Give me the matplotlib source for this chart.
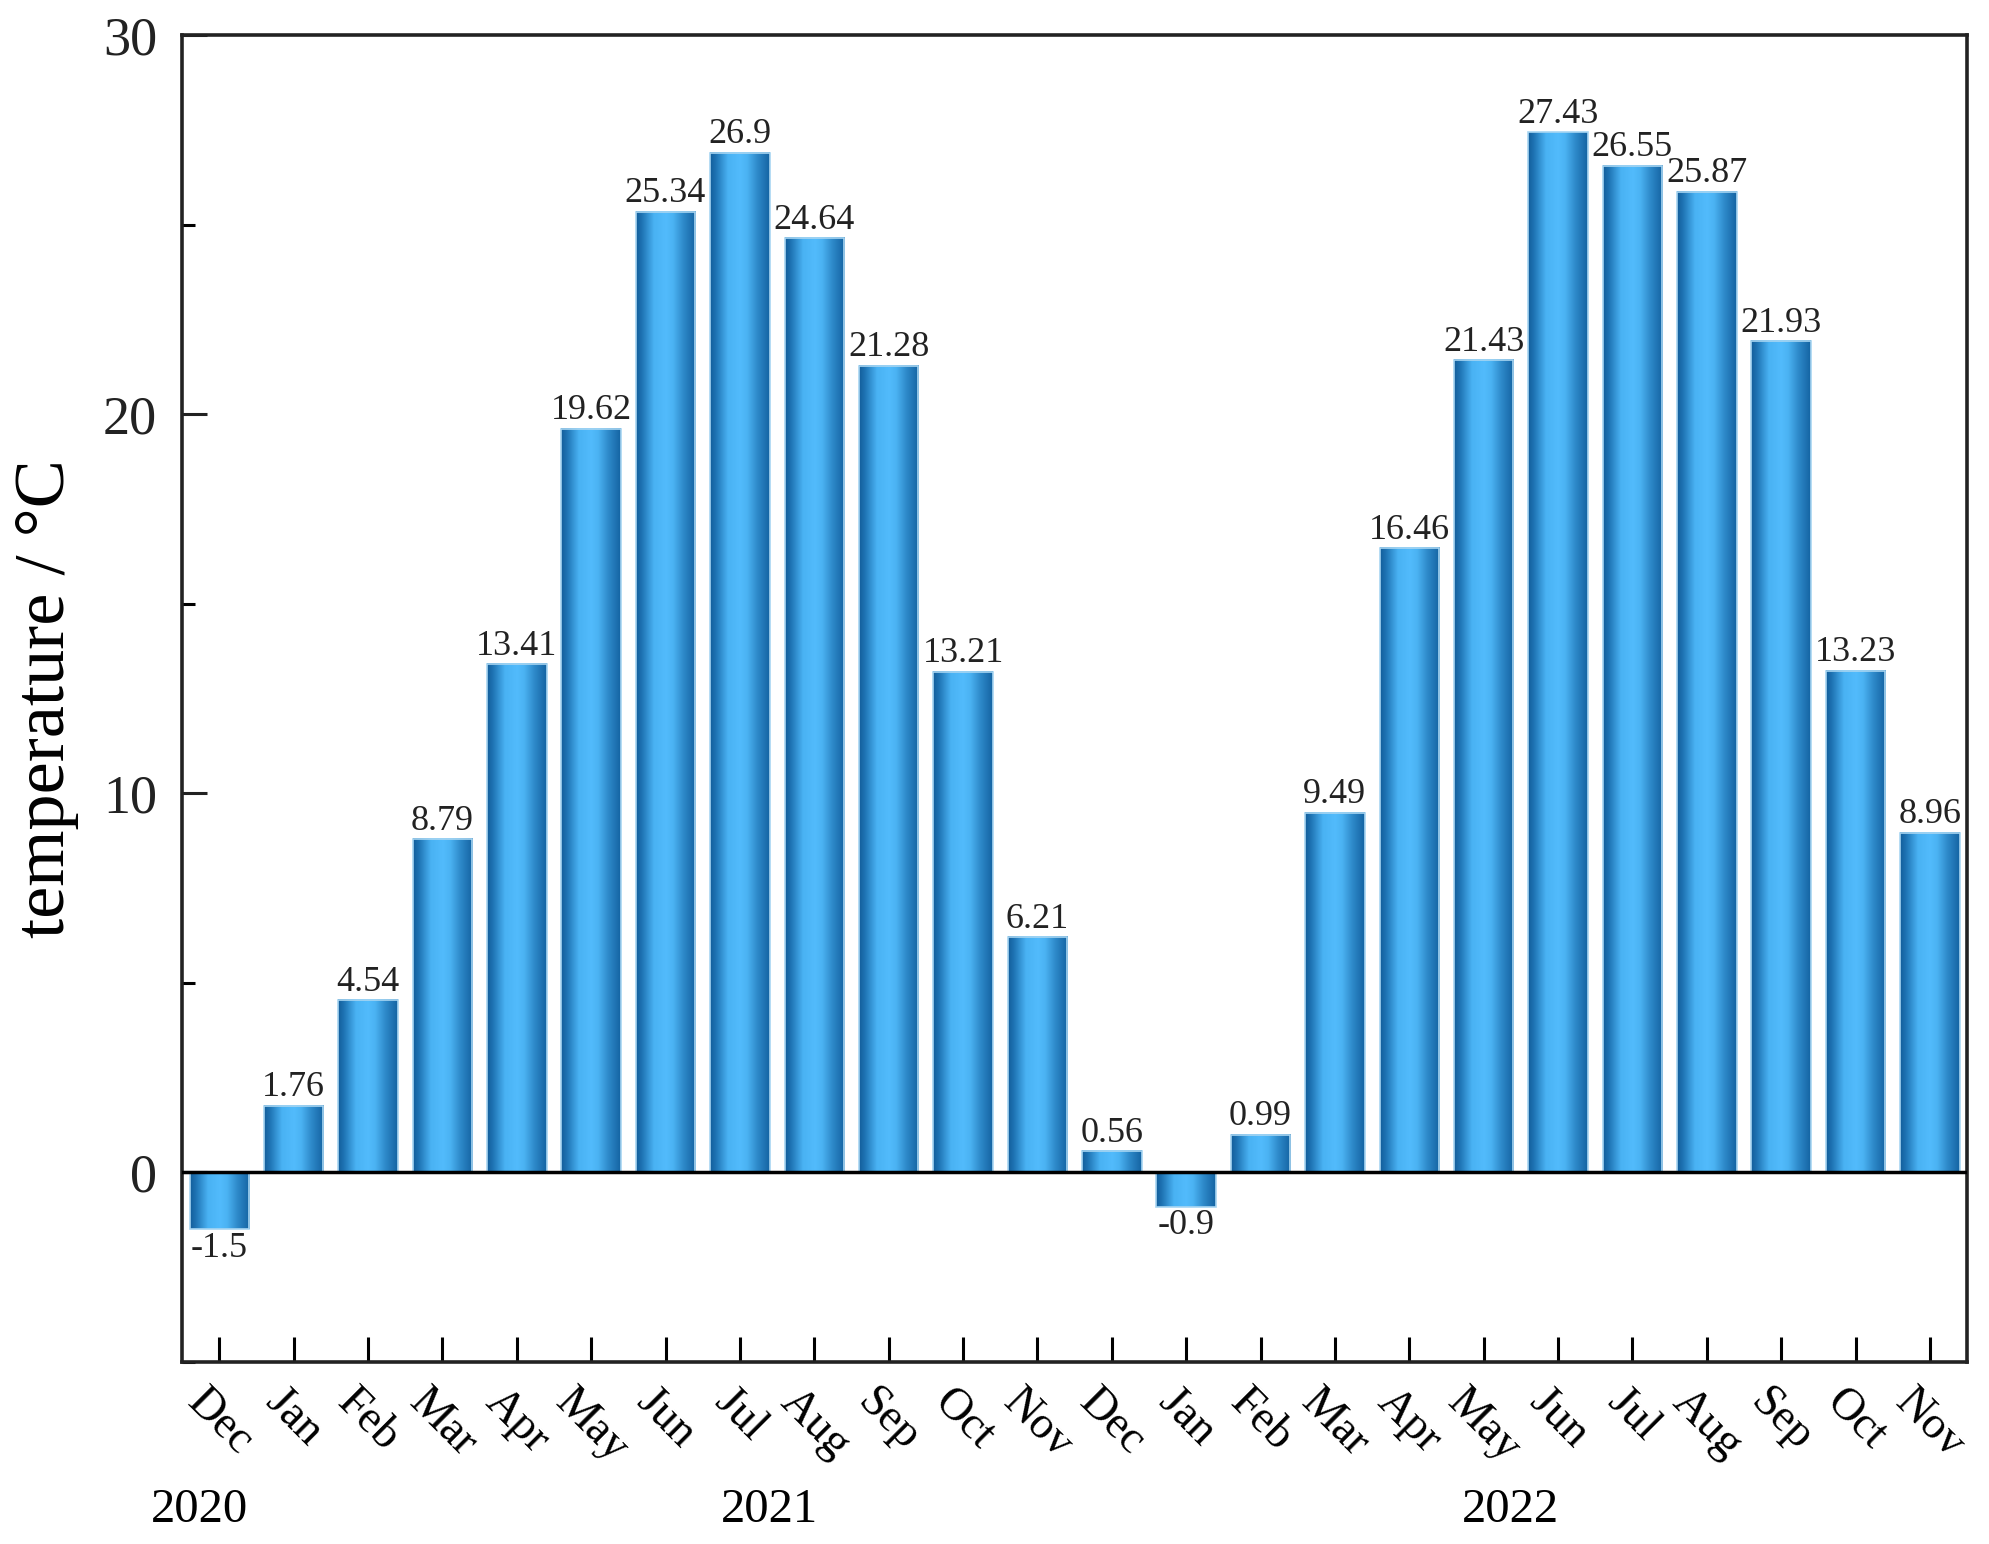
import numpy as np
from matplotlib import pyplot as plt
from matplotlib.colors import LinearSegmentedColormap
from matplotlib.patches import Rectangle
from matplotlib.ticker import MultipleLocator

plt.rcParams['font.family'] = ['Liberation Serif', 'DejaVu Serif']

# monthly mean temperature, Dec 2020 - Nov 2022
months = ['Dec', 'Jan', 'Feb', 'Mar', 'Apr', 'May', 'Jun', 'Jul', 'Aug', 'Sep', 'Oct', 'Nov',
          'Dec', 'Jan', 'Feb', 'Mar', 'Apr', 'May', 'Jun', 'Jul', 'Aug', 'Sep', 'Oct', 'Nov']
temps = [-1.5, 1.76, 4.54, 8.79, 13.41, 19.62, 25.34, 26.9, 24.64, 21.28, 13.21, 6.21,
         0.56, -0.9, 0.99, 9.49, 16.46, 21.43, 27.43, 26.55, 25.87, 21.93, 13.23, 8.96]
years = ['2020', '2021', '2022']
yearPos = [-0.26, 7.4, 17.36]

# horizontal shading across each bar (dark edges, light middle)
barCmap = LinearSegmentedColormap.from_list('bar', [
    (0.0, '#125d9a'), (0.1, '#1f74b4'), (0.3, '#49b2f3'), (0.5, '#52bbfc'),
    (0.62, '#4bb3f3'), (0.8, '#2d88c8'), (1.0, '#1463a2')])
grad = np.linspace(0, 1, 256).reshape(1, -1)

fig = plt.figure(figsize=(19.9, 15.44), dpi=100)
ax = fig.add_axes([0.0915, 0.1179, 0.897, 0.8594])

x = np.arange(len(temps))
width = 0.8
bars = ax.bar(x, temps, width=width, color='none', edgecolor='none')
for b, v in zip(bars, temps):
    x0 = b.get_x()
    y0, y1 = min(0, v), max(0, v)
    ax.imshow(grad, cmap=barCmap, extent=[x0, x0 + width, y0, y1],
              aspect='auto', interpolation='bilinear', zorder=2)
    ax.add_patch(Rectangle((x0, y0), width, y1 - y0, fill=False,
                           edgecolor='#a8d6f2', linewidth=1.2, zorder=2.5))

# value labels above / below the bars
for xi, v in zip(x, temps):
    if v >= 0:
        ax.annotate(f'{v:g}', (xi, v), xytext=(0, 1), textcoords='offset points',
                    ha='center', va='bottom', fontsize=26, color='#222222')
    else:
        ax.annotate(f'{v:g}', (xi, v), xytext=(0, -2), textcoords='offset points',
                    ha='center', va='top', fontsize=26, color='#222222')

ax.axhline(0, color='black', linewidth=2.5, zorder=3)

ax.set_xlim(-0.5, len(temps) - 0.5)
ax.set_ylim(-5, 30)
ax.set_yticks([0, 10, 20, 30])
ax.yaxis.set_minor_locator(MultipleLocator(5))
ax.set_xticks(x)
ax.set_xticklabels(months, rotation=-45, fontsize=33)

ax.tick_params(axis='y', which='major', direction='in', length=18, width=2.2,
               labelsize=39, pad=18, colors='#222222')
ax.tick_params(axis='y', which='minor', direction='in', length=9, width=2.2)
ax.tick_params(axis='x', direction='in', length=18, width=2.2, pad=14)
for s in ax.spines.values():
    s.set_linewidth(2.6)
    s.set_color('#222222')

ax.set_ylabel('temperature / °C', fontsize=52)
ax.yaxis.set_label_coords(-0.058, 0.5)

# year labels under the month names
for pos, yr in zip(yearPos, years):
    ax.text(pos, -0.1115, yr, transform=ax.get_xaxis_transform(),
            ha='center', va='center', fontsize=35)

fig.savefig('out.png', dpi=100)
